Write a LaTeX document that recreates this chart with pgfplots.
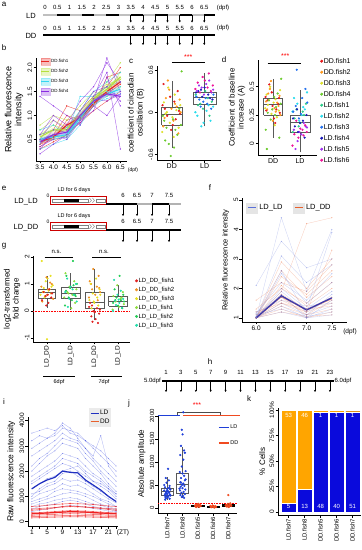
\documentclass[border=0pt]{standalone}
\usepackage{fontspec}
\setmainfont{Liberation Sans}
\usepackage{pgfplots}
\usepackage{pgfplotstable}
\pgfplotsset{compat=1.18}
\usetikzlibrary{arrows.meta}

\definecolor{bb1}{HTML}{E8251F}
\definecolor{bb2}{HTML}{B5E03C}
\definecolor{bb3}{HTML}{35D6F0}
\definecolor{bb4}{HTML}{8A2BE2}
\definecolor{cd1}{HTML}{E41A1C}
\definecolor{cd2}{HTML}{FF9A1F}
\definecolor{cd3}{HTML}{DDE02A}
\definecolor{cd4}{HTML}{6CCB2E}
\definecolor{cl1}{HTML}{2ECC8A}
\definecolor{cl2}{HTML}{2ADCEC}
\definecolor{cl3}{HTML}{2270EE}
\definecolor{cl4}{HTML}{1A1AB8}
\definecolor{cl5}{HTML}{A030F0}
\definecolor{cl6}{HTML}{F0149A}
\definecolor{gg1}{HTML}{E02020}
\definecolor{gg2}{HTML}{F09020}
\definecolor{gg3}{HTML}{E6E020}
\definecolor{gg4}{HTML}{8CDC3C}
\definecolor{gg5}{HTML}{22CC55}
\definecolor{gg6}{HTML}{22DDAA}
\definecolor{fblue}{HTML}{5A6FD8}
\definecolor{fred}{HTML}{E8602C}
\definecolor{fmean}{HTML}{3A3AAE}
\definecolor{iblue}{HTML}{3A4ADF}
\definecolor{imean}{HTML}{2030C0}
\definecolor{ired}{HTML}{EE2222}
\definecolor{jblue}{HTML}{1F3FD8}
\definecolor{jred}{HTML}{F04A20}
\definecolor{korange}{HTML}{FFA500}
\definecolor{kblue}{HTML}{0A0ADC}

\newcommand\fsz[2]{\fontsize{#1}{#2}\selectfont}
% box-and-whisker from plain coordinates: style, left, centre, right, lower whisker, q1, median, q3, upper whisker
\newcommand\rbox[9]{%
 \addplot[#1, forget plot] coordinates {(#3,#5) (#3,#6)};
 \addplot[#1, forget plot] coordinates {(#3,#8) (#3,#9)};
 \addplot[#1, forget plot] coordinates {(#2,#6) (#4,#6) (#4,#8) (#2,#8) (#2,#6)};
 \addplot[#1, forget plot, line width=1pt] coordinates {(#2,#7) (#4,#7)};
}

\tikzset{arr/.style={-{Stealth[length=2.2pt,width=2.2pt]}, line width=0.6pt}}
\pgfplotsset{
 rbase/.style={
  scale only axis, clip=false, anchor=south west,
  axis x line*=bottom, axis y line*=left,
  axis line style={line width=0.5pt,-},
  tick align=outside, major tick length=2.5pt,
  every tick/.style={black, line width=0.5pt},
  tick label style={font=\fsz{6.5}{7}, inner sep=1pt},
  yticklabel style={rotate=90, anchor=south},
  label style={font=\fsz{8}{9}, align=center},
  /pgf/number format/assume math mode=true,
  scaled ticks=false,
  legend cell align=left,
 },
 allclasses/.style={scatter, only marks, mark=*, scatter src=explicit symbolic,
  scatter/classes={d1={mark=*,cd1},d2={mark=*,cd2},d3={mark=*,cd3},d4={mark=*,cd4},
  l1={mark=*,cl1},l2={mark=*,cl2},l3={mark=*,cl3},l4={mark=*,cl4},l5={mark=*,cl5},l6={mark=*,cl6},
  g1={mark=*,gg1},g2={mark=*,gg2},g3={mark=*,gg3},g4={mark=*,gg4},g5={mark=*,gg5},g6={mark=*,gg6}}},
 dotleg/.style={legend image code/.code={\fill[##1] (0pt,0pt) circle (1.3pt);}},
}

% ---------- panel b data ----------
\pgfplotstableread{
t a b c d e m
3.5 0.40 0.60 0.30 0.50 0.35 0.45
4.0 0.50 0.70 0.45 0.60 0.55 0.55
4.5 0.90 1.20 0.60 1.00 0.80 0.80
5.0 1.00 1.10 0.85 0.90 0.95 0.95
5.5 1.30 1.40 1.10 1.20 1.35 1.25
6.0 1.50 1.60 1.30 1.80 1.45 1.50
6.5 1.70 2.00 1.50 1.90 1.65 1.70
}\bfa
\pgfplotstableread{
t a b c d e m
3.5 0.60 0.40 0.80 0.50 0.70 0.55
4.0 0.80 0.60 1.00 0.50 0.90 0.70
4.5 0.70 0.55 0.90 0.60 0.75 0.70
5.0 1.10 0.90 1.20 1.00 0.95 1.00
5.5 1.40 1.30 1.50 1.20 1.35 1.35
6.0 1.60 1.70 1.40 1.50 1.65 1.55
6.5 1.80 2.10 1.60 1.90 1.75 1.80
}\bfb
\pgfplotstableread{
t a b c d e m
3.5 0.50 0.30 0.70 0.45 0.60 0.50
4.0 0.60 0.40 0.80 0.50 0.70 0.55
4.5 0.65 0.50 0.60 0.55 0.75 0.60
5.0 1.00 0.80 1.40 0.90 1.10 0.95
5.5 1.30 1.20 1.40 1.25 1.50 1.30
6.0 1.50 1.40 1.60 1.35 1.70 1.45
6.5 1.60 1.50 1.70 1.45 1.90 1.55
}\bfc
\pgfplotstableread{
t a b c d e f g m
3.5 0.30 0.50 0.20 1.40 0.40 0.60 0.35 0.45
4.0 0.60 0.90 0.40 1.20 0.70 1.00 0.50 0.60
4.5 0.50 0.70 0.60 1.00 0.65 0.80 0.55 0.65
5.0 0.90 1.00 1.10 0.80 0.85 1.30 0.95 1.00
5.5 1.10 1.30 1.50 1.40 1.20 1.60 1.35 1.30
6.0 1.80 2.20 1.60 1.90 1.00 2.10 1.30 1.45
6.5 1.20 1.50 1.30 0.30 1.40 1.70 1.45 1.40
}\bfd

% ---------- panels c,d data ----------
\pgfplotstableread{
dx yc yd cls
-0.21 0.05 0.38 d1
0.12 -0.10 0.30 d1
-0.05 0.22 0.45 d1
0.25 -0.02 0.27 d1
-0.28 0.10 0.41 d1
0.03 -0.18 0.22 d1
0.18 0.30 0.35 d1
-0.14 -0.05 0.52 d1
0.08 0.15 0.18 d1
-0.02 -0.25 0.33 d1
0.22 0.02 0.40 d1
-0.25 0.40 0.29 d1
0.15 0.08 0.36 d2
-0.18 0.20 0.44 d2
0.05 -0.12 0.31 d2
-0.08 0.32 0.55 d2
0.27 0.00 0.25 d2
-0.26 -0.20 0.37 d2
0.10 0.12 0.28 d2
-0.12 0.45 0.48 d2
0.20 -0.30 0.33 d2
-0.01 0.05 0.20 d2
0.24 0.18 0.42 d2
-0.22 -0.08 0.30 d2
-0.19 -0.02 0.34 d3
0.09 0.25 0.39 d3
-0.06 -0.15 0.26 d3
0.26 0.10 0.47 d3
-0.29 -0.28 0.31 d3
0.14 0.03 0.23 d3
-0.11 0.35 0.50 d3
0.02 -0.07 0.36 d3
0.21 -0.22 0.29 d3
-0.24 0.14 0.43 d3
0.06 -0.35 0.16 d3
-0.15 0.00 0.38 d3
0.11 -0.25 0.32 d4
-0.20 -0.40 0.27 d4
0.04 -0.10 0.41 d4
-0.09 -0.45 0.21 d4
0.28 -0.18 0.35 d4
-0.27 -0.05 0.12 d4
0.17 -0.32 0.44 d4
-0.03 -0.62 0.30 d4
0.23 0.05 0.05 d4
-0.16 -0.22 0.38 d4
0.07 -0.50 0.25 d4
-0.23 -0.12 -0.05 d4
0.30 0.58 0.57 d4
}\cdDD
\pgfplotstableread{
dx yc yd cls
-0.20 0.10 0.22 l1
0.10 0.20 0.28 l1
-0.05 0.05 0.15 l1
0.22 0.15 0.35 l1
-0.27 0.25 0.10 l1
0.15 -0.05 0.25 l1
0.02 0.30 0.18 l1
-0.13 0.12 0.30 l1
0.18 -0.12 0.30 l2
-0.22 -0.05 0.40 l2
0.06 0.02 0.25 l2
-0.10 -0.20 0.35 l2
0.26 0.08 0.45 l2
-0.03 -0.15 0.20 l2
0.12 0.10 0.32 l2
-0.28 0.00 0.28 l2
-0.16 0.18 0.33 l3
0.08 0.12 0.40 l3
-0.25 0.22 0.28 l3
0.20 0.05 0.48 l3
-0.04 0.15 0.22 l3
0.27 0.25 0.36 l3
-0.12 0.08 0.65 l3
0.03 0.20 0.26 l3
0.11 0.25 0.20 l4
-0.19 0.30 0.15 l4
0.24 0.18 0.25 l4
-0.07 0.22 0.10 l4
0.00 0.35 0.18 l4
-0.26 0.28 0.22 l4
0.17 0.20 0.05 l4
-0.11 0.32 0.30 l4
-0.23 0.30 0.12 l5
0.05 0.40 0.08 l5
0.21 0.28 0.15 l5
-0.09 0.35 0.02 l5
0.14 0.45 0.18 l5
-0.02 0.25 0.10 l5
-0.17 0.38 -0.05 l5
0.26 0.32 0.14 l5
0.09 0.35 0.12 l6
-0.21 0.42 0.08 l6
0.19 0.30 0.16 l6
-0.06 0.50 0.05 l6
0.25 0.38 0.10 l6
-0.14 0.28 0.20 l6
0.01 0.45 0.13 l6
-0.28 0.33 -0.02 l6
0.13 0.55 0.07 l6
}\cdLD

% ---------- panel g data ----------
\pgfplotstableread{
x y cls
0.78 1.85 g3
1.15 1.30 g3
0.95 1.10 g3
1.24 0.95 g3
0.86 0.85 g3
1.07 0.75 g3
0.73 0.60 g3
1.19 0.90 g3
1.02 1.20 g3
0.90 0.50 g3
1.00 -1.05 g3
0.82 0.70 g3
1.11 0.80 g3
0.98 1.25 g2
1.20 1.00 g2
0.76 0.90 g2
1.05 0.80 g2
0.88 0.70 g2
1.17 0.65 g2
0.92 0.55 g2
1.26 0.45 g2
0.80 0.35 g2
1.13 1.05 g2
1.00 0.60 g2
1.10 0.80 g1
0.85 0.70 g1
1.03 0.60 g1
0.94 0.55 g1
1.18 0.50 g1
0.79 0.40 g1
1.06 0.30 g1
0.97 0.20 g1
1.22 0.65 g1
1.78 1.40 g4
2.15 1.10 g4
1.95 0.90 g4
2.24 0.80 g4
1.86 0.70 g4
2.07 0.60 g4
1.73 0.50 g4
2.19 0.30 g4
2.02 0.10 g4
1.90 0.65 g4
2.10 1.85 g5
1.82 1.30 g5
2.26 1.00 g5
1.98 0.85 g5
1.80 0.75 g5
2.17 0.60 g5
1.92 0.50 g5
2.05 0.40 g5
1.76 0.20 g5
2.12 0.95 g5
2.21 0.55 g5
1.85 1.20 g6
2.22 1.00 g6
2.00 0.90 g6
1.77 0.70 g6
2.13 0.60 g6
1.94 0.45 g6
2.25 0.35 g6
1.88 0.15 g6
2.08 0.80 g6
2.95 1.55 g2
3.18 1.30 g2
2.80 1.10 g2
3.10 0.90 g2
2.90 0.80 g2
3.24 0.70 g2
3.03 0.60 g2
2.77 0.50 g2
3.14 0.40 g2
2.86 1.00 g2
3.20 0.85 g2
3.07 1.20 g3
2.84 1.00 g3
3.22 0.80 g3
2.93 0.65 g3
3.12 0.50 g3
2.79 0.40 g3
3.00 0.30 g3
3.16 0.20 g3
2.88 0.10 g3
3.25 0.60 g3
2.97 0.35 g3
2.82 0.30 g1
3.11 0.10 g1
2.96 0.00 g1
3.20 -0.10 g1
2.87 -0.20 g1
3.05 -0.30 g1
2.92 -0.40 g1
3.15 -0.45 g1
2.78 0.15 g1
3.23 0.05 g1
3.01 -0.05 g1
2.90 0.20 g1
3.96 0.95 g4
4.20 0.70 g4
3.80 0.55 g4
4.10 0.45 g4
3.90 0.35 g4
4.24 0.25 g4
4.03 0.15 g4
3.77 0.05 g4
4.14 0.50 g4
4.06 1.30 g5
3.85 0.80 g5
4.22 0.60 g5
3.93 0.50 g5
4.12 0.40 g5
3.79 0.30 g5
4.00 0.20 g5
4.17 0.10 g5
3.88 0.40 g5
4.25 0.35 g5
3.83 1.15 g6
4.11 0.75 g6
3.97 0.60 g6
4.21 0.45 g6
3.86 0.38 g6
4.05 0.30 g6
3.91 0.22 g6
4.16 0.12 g6
3.78 0.00 g6
4.02 0.42 g6
}\gtab

% ---------- panel f data ----------
\pgfplotstableread{
t a b c d e f g h i j k l m n o M
6.0 1.0 1.0 1.05 1.0 1.1 1.0 1.2 1.0 1.0 1.15 1.0 2.1 1.0 1.05 1.0 1.0
6.5 1.5 2.0 1.8 2.5 1.3 3.1 1.6 4.4 1.9 2.2 1.4 3.6 1.7 2.6 1.2 1.75
7.0 1.1 1.3 1.0 1.5 1.05 2.2 1.4 1.9 1.2 1.6 1.0 2.7 1.3 1.1 1.0 1.27
7.5 1.4 1.9 1.6 2.2 1.2 2.8 1.5 4.0 1.7 2.5 1.3 3.0 3.9 1.8 1.1 1.68
}\flb
\pgfplotstableread{
t a b c d e f g h i j k l m n o M
6.0 1.0 1.0 1.1 1.0 1.0 1.0 1.2 1.0 1.0 1.3 1.0 1.0 1.6 1.0 1.0 1.0
6.5 1.6 2.1 1.7 2.4 1.3 2.9 1.5 1.9 1.8 2.0 1.4 2.6 2.2 1.5 1.2 1.72
7.0 1.2 1.4 1.1 1.8 1.0 2.0 1.3 4.2 1.3 1.5 1.1 1.7 1.9 1.2 1.05 1.26
7.5 1.5 2.0 1.6 2.6 1.2 3.0 1.4 4.4 1.7 2.2 1.3 2.4 2.8 3.3 1.1 1.65
}\fld

% ---------- panel i data ----------
\pgfplotstableread{
t a b c d e f g h i j k l m n o p q r M
1 3500 2900 1800 1300 900 700 2200 1100 600 1500 3200 500 2600 1000 800 1600 400 2000 1300
3 3600 3100 2000 1500 1100 800 2500 1200 700 1700 3400 600 2800 1300 900 1800 450 2300 1500
5 3700 3300 2200 1700 1200 900 2700 1400 750 1900 3300 650 3000 1500 1000 2000 500 2600 1650
7 3600 3400 2400 1800 1300 1000 3000 1500 850 2100 3500 700 3200 1600 1200 2200 550 2800 1750
9 3800 3700 2700 2000 1500 1100 3300 1700 900 2300 3900 800 3500 1900 1300 2500 600 3100 2000
11 3500 3600 2600 2100 1400 1150 3200 1600 950 2200 3700 850 3300 2000 1250 2400 650 3000 1950
13 3400 3500 2500 2200 1450 1100 3100 1650 900 2000 3300 800 3200 1800 1200 2300 620 2900 1930
15 3200 3200 2200 1900 1300 1000 2700 1500 800 1800 2900 700 2900 1600 1100 2000 580 2500 1650
17 3000 2900 1900 1600 1100 850 2400 1300 700 1600 2600 600 2500 1400 1000 1800 520 2200 1450
19 2800 2600 1700 1400 900 700 2000 1100 650 1500 3400 550 2200 1200 850 1600 480 1900 1250
21 2500 2300 1400 1200 800 600 1700 900 550 1300 2200 500 1900 1000 700 1300 420 1500 1000
23 2200 2000 1100 900 600 500 1400 750 450 1000 1800 400 1600 800 600 1100 380 1200 800
}\iLD
\pgfplotstableread{
t a b c d e f g h M
1 200 300 450 150 600 350 250 500 320
3 210 320 480 160 620 360 270 520 330
5 220 340 500 170 650 380 280 540 345
7 230 360 550 180 680 400 290 560 360
9 240 380 600 190 700 420 310 580 380
11 250 390 620 200 720 440 320 600 395
13 250 380 600 195 710 430 315 590 390
15 240 370 580 190 700 420 300 580 380
17 230 350 550 180 680 400 290 560 360
19 220 330 520 170 650 380 280 540 345
21 210 310 480 160 620 360 260 520 330
23 200 300 450 150 600 340 250 500 320
}\iDD

% ---------- panel j data (amplitude, in units of 100) ----------
\pgfplotstableread{
x y
1.05 8.50
0.90 6.50
1.10 6.00
0.95 5.50
1.15 4.80
0.85 4.50
1.00 4.20
1.20 4.00
0.80 3.80
1.05 3.60
0.92 3.40
1.12 3.30
0.88 3.10
1.00 3.00
1.18 2.90
0.83 2.80
1.08 2.60
0.95 2.50
1.02 2.30
0.90 2.10
1.15 2.00
0.86 1.80
1.06 3.50
0.97 3.70
1.13 4.40
0.80 5.00
0.94 3.20
1.20 2.70
1.00 3.90
0.87 2.40
2.05 20.80
1.95 17.00
2.00 16.00
1.90 13.50
2.10 12.50
2.15 12.00
1.85 11.50
2.05 10.50
1.95 9.00
2.20 8.00
1.82 7.80
2.00 7.50
2.10 7.00
1.90 6.50
2.15 6.00
1.85 5.60
2.05 5.30
1.97 5.00
2.12 4.80
1.88 4.60
2.00 4.30
2.18 4.00
1.83 3.80
2.07 3.50
1.93 3.30
2.15 3.00
1.86 2.80
2.02 2.60
1.95 2.40
2.10 2.20
1.90 5.50
2.20 6.20
1.80 4.20
}\jLD
\pgfplotstableread{
x y
2.85 0.30
2.95 0.50
3.05 0.40
3.15 0.60
2.90 0.20
3.10 0.70
3.00 0.35
2.82 0.55
3.20 0.45
2.97 0.80
3.08 0.25
2.88 0.65
3.12 0.30
3.02 0.90
2.92 0.40
3.85 0.20
3.95 0.30
4.05 0.15
4.15 0.40
3.90 0.25
4.10 0.10
4.00 0.35
3.82 0.45
4.20 0.20
3.97 0.55
4.08 0.30
3.88 0.15
4.85 0.40
4.95 0.60
5.05 0.50
5.15 0.80
4.90 0.30
5.10 0.70
5.00 2.80
4.82 0.55
5.20 0.45
4.97 0.90
5.08 0.35
4.88 0.65
5.12 1.00
5.02 0.20
}\jDD

\begin{document}
\begin{tikzpicture}
\useasboundingbox (0pt,0pt) rectangle (362pt,550pt);

% ================= b =================
\begin{axis}[rbase, at={(36pt,389pt)}, width=91pt, height=103pt,
 xmin=3.35, xmax=6.75, ymin=0.05, ymax=2.2,
 xtick={3.5,4,4.5,5,5.5,6,6.5}, xticklabels={3.5,4.0,4.5,5.0,5.5,6.0,6.5},
 ytick={0.5,1,1.5,2}, yticklabels={0.5,1.0,1.5,2.0},
 ylabel={Relative fluorescence\\intensity}, ylabel style={font=\fsz{9}{10}},
 legend style={at={(0.05,1.0)}, anchor=north west, draw=none, fill=none, font=\fsz{4.5}{5}, row sep=2.5pt, inner sep=0pt, nodes={inner sep=1pt}},
 legend image code/.code={\fill[#1,opacity=0.3] (0pt,-3.5pt) rectangle (9pt,3.5pt); \draw[#1,line width=1.2pt] (0.5pt,0pt) -- (8.5pt,0pt);},
]
\addlegendimage{bb1}\addlegendentry{DD.fish1}
\addlegendimage{bb2}\addlegendentry{DD.fish2}
\addlegendimage{bb3}\addlegendentry{DD.fish3}
\addlegendimage{bb4}\addlegendentry{DD.fish4}
\pgfplotsinvokeforeach{a,b,c,d,e}{\addplot[bb1, line width=0.4pt, opacity=0.75, mark=*, mark size=0.45pt, forget plot] table[x=t,y=#1]{\bfa};}
\pgfplotsinvokeforeach{a,b,c,d,e}{\addplot[bb2, line width=0.4pt, opacity=0.75, mark=*, mark size=0.45pt, forget plot] table[x=t,y=#1]{\bfb};}
\pgfplotsinvokeforeach{a,b,c,d,e}{\addplot[bb3, line width=0.4pt, opacity=0.75, mark=*, mark size=0.45pt, forget plot] table[x=t,y=#1]{\bfc};}
\pgfplotsinvokeforeach{a,b,c,d,e,f,g}{\addplot[bb4, line width=0.4pt, opacity=0.75, mark=*, mark size=0.45pt, forget plot] table[x=t,y=#1]{\bfd};}
\addplot[bb1, line width=4pt, opacity=0.25, forget plot] table[x=t,y=m]{\bfa};
\addplot[bb2, line width=4pt, opacity=0.25, forget plot] table[x=t,y=m]{\bfb};
\addplot[bb3, line width=4pt, opacity=0.25, forget plot] table[x=t,y=m]{\bfc};
\addplot[bb4, line width=4pt, opacity=0.25, forget plot] table[x=t,y=m]{\bfd};
\addplot[bb1, line width=1pt, forget plot] table[x=t,y=m]{\bfa};
\addplot[bb2, line width=1pt, forget plot] table[x=t,y=m]{\bfb};
\addplot[bb3, line width=1pt, forget plot] table[x=t,y=m]{\bfc};
\addplot[bb4, line width=1pt, forget plot] table[x=t,y=m]{\bfd};
\end{axis}

% ================= c =================
\begin{axis}[rbase, at={(157pt,389.8pt)}, width=64pt, height=94.5pt,
 xmin=0.55, xmax=2.5, ymin=-0.68, ymax=0.66,
 xtick={1,2}, xticklabels={DD,LD}, xticklabel style={font=\fsz{7}{8}},
 ytick={-0.6,0,0.6}, yticklabels={-0.6,0,0.6},
 ylabel={coefficient of circadian\\oscillation (B)}]
\addplot[allclasses, mark size=0.9pt, forget plot] table[x expr={1+\thisrow{dx}}, y=yc, meta=cls]{\cdDD};
\addplot[allclasses, mark size=0.9pt, forget plot] table[x expr={2+\thisrow{dx}}, y=yc, meta=cls]{\cdLD};
\rbox{draw=black!65, line width=0.5pt}{0.69}{1}{1.31}{-0.5}{-0.18}{-0.03}{0.07}{0.45}
\rbox{draw=black!65, line width=0.5pt}{1.65}{2}{2.35}{-0.2}{0.11}{0.21}{0.28}{0.55}
\draw[line width=0.8pt] (axis cs:1,0.7) -- (axis cs:2,0.7);
\node[red, font=\fsz{7}{7}] at (axis cs:1.5,0.78) {***};
\end{axis}

% ================= d =================
\begin{axis}[rbase, at={(258pt,395pt)}, width=59pt, height=95pt,
 xmin=0.44, xmax=2.63, ymin=-0.103, ymax=0.736,
 xtick={1,2}, xticklabels={DD,LD}, xticklabel style={font=\fsz{7}{8}},
 ytick={0,0.25,0.5}, yticklabels={0,0.25,0.5},
 ylabel={Coefficient of baseline\\increase (A)}, dotleg,
 legend style={at={(1.05,1.03)}, anchor=north west, draw=none, fill=none, font=\fsz{7}{8}, row sep=3.3pt, inner sep=0pt, nodes={inner sep=0.6pt, text height=5.3pt, text depth=1.2pt}}]
\addlegendimage{cd1}\addlegendentry{DD.fish1}
\addlegendimage{cd2}\addlegendentry{DD.fish2}
\addlegendimage{cd3}\addlegendentry{DD.fish3}
\addlegendimage{cd4}\addlegendentry{DD.fish4}
\addlegendimage{cl1}\addlegendentry{LD.fish1}
\addlegendimage{cl2}\addlegendentry{LD.fish2}
\addlegendimage{cl3}\addlegendentry{LD.fish3}
\addlegendimage{cl4}\addlegendentry{LD.fish4}
\addlegendimage{cl5}\addlegendentry{LD.fish5}
\addlegendimage{cl6}\addlegendentry{LD.fish6}
\addplot[allclasses, mark size=0.9pt, forget plot] table[x expr={1+\thisrow{dx}}, y=yd, meta=cls]{\cdDD};
\addplot[allclasses, mark size=0.9pt, forget plot] table[x expr={2+\thisrow{dx}}, y=yd, meta=cls]{\cdLD};
\rbox{draw=black!65, line width=0.5pt}{0.65}{1}{1.35}{0.05}{0.25}{0.34}{0.40}{0.57}
\rbox{draw=black!65, line width=0.5pt}{1.625}{2}{2.375}{-0.08}{0.10}{0.18}{0.25}{0.47}
\draw[line width=0.8pt] (axis cs:0.8,0.71) -- (axis cs:2.05,0.71);
\node[red, font=\fsz{7}{7}] at (axis cs:1.45,0.77) {***};
\end{axis}

% ================= g =================
\begin{axis}[rbase, at={(33pt,208pt)}, width=97pt, height=86.4pt,
 xmin=0.41, xmax=4.5, ymin=-1.15, ymax=2.05,
 xtick={1,2,3,4}, xticklabels={LD\_DD,LD\_LD,LD\_DD,LD\_LD}, xticklabel style={rotate=90, anchor=east, font=\fsz{6.5}{7}},
 ytick={-1,0,1,2}, yticklabels={-1,0,1,2},
 ylabel={log2-transformed\\fold change}, dotleg,
 legend style={at={(1.05,0.75)}, anchor=north west, draw=none, fill=none, font=\fsz{6}{7}, row sep=2pt, inner sep=0pt, nodes={inner sep=0.6pt, text height=4.6pt, text depth=1.1pt}}]
\addlegendimage{gg1}\addlegendentry{LD\_DD\_fish1}
\addlegendimage{gg2}\addlegendentry{LD\_DD\_fish2}
\addlegendimage{gg3}\addlegendentry{LD\_DD\_fish3}
\addlegendimage{gg4}\addlegendentry{LD\_LD\_fish1}
\addlegendimage{gg5}\addlegendentry{LD\_LD\_fish2}
\addlegendimage{gg6}\addlegendentry{LD\_LD\_fish3}
\addplot[red, densely dotted, line width=0.6pt, forget plot] coordinates {(0.41,0) (4.5,0)};
\addplot[allclasses, mark size=0.85pt, forget plot] table[x=x, y=y, meta=cls]{\gtab};
\rbox{draw=black!65, line width=0.5pt}{0.64}{1}{1.36}{0.1}{0.48}{0.69}{0.82}{1.3}
\rbox{draw=black!65, line width=0.5pt}{1.6}{2}{2.4}{0.05}{0.48}{0.63}{0.88}{1.4}
\rbox{draw=black!65, line width=0.5pt}{2.6}{3}{3.4}{-0.35}{0.1}{0.32}{0.69}{1.55}
\rbox{draw=black!65, line width=0.5pt}{3.6}{4}{4.4}{0}{0.19}{0.36}{0.54}{0.95}
\draw[line width=0.8pt] (axis cs:0.9,2.0) -- (axis cs:2.1,2.0);
\draw[line width=0.8pt] (axis cs:2.9,2.0) -- (axis cs:4.1,2.0);
\node[font=\fsz{6}{6}] at (axis cs:1.4,2.17) {n.s.};
\node[font=\fsz{6}{6}] at (axis cs:3.4,2.17) {n.s.};
\end{axis}

% ================= f =================
\begin{axis}[rbase, at={(242pt,228pt)}, width=105pt, height=124pt,
 xmin=5.72, xmax=7.8, ymin=0.86, ymax=5.07,
 xtick={6,6.5,7,7.5}, xticklabels={6.0,6.5,7.0,7.5},
 ytick={1,2,3,4,5}, yticklabels={1,2,3,4,5},
 ylabel={Relative fluorescence intensity}, ylabel style={font=\fsz{7.5}{8}},
 legend columns=2,
 legend style={at={(0.04,0.965)}, anchor=north west, draw=none, fill=none, font=\fsz{7.5}{8}, inner sep=0pt, nodes={inner sep=1.5pt}, /tikz/every even column/.append style={column sep=9pt}},
 legend image code/.code={\fill[black!10] (0pt,-5pt) rectangle (11pt,5pt); \draw[#1,line width=1.5pt] (1.5pt,0pt) -- (9.5pt,0pt);}]
\addlegendimage{fblue}\addlegendentry{LD\_LD}
\addlegendimage{fred}\addlegendentry{LD\_DD}
\pgfplotsinvokeforeach{a,b,c,d,e,f,g,h,i,j,k,l,m,n,o}{\addplot[fred, line width=0.35pt, opacity=0.3, mark=*, mark size=0.4pt, forget plot] table[x=t,y=#1]{\fld};}
\pgfplotsinvokeforeach{a,b,c,d,e,f,g,h,i,j,k,l,m,n,o}{\addplot[fblue, line width=0.35pt, opacity=0.3, mark=*, mark size=0.4pt, forget plot] table[x=t,y=#1]{\flb};}
\addplot[fred, line width=0.9pt, opacity=0.6, forget plot] table[x=t,y=M]{\fld};
\addplot[fmean, line width=1.3pt, forget plot] table[x=t,y=M]{\flb};
\end{axis}

% ================= i =================
\begin{axis}[rbase, at={(28pt,24pt)}, width=90pt, height=109.3pt,
 xmin=0, xmax=23.5, ymin=-170, ymax=4150,
 xtick={1,3,5,7,9,11,13,15,17,19,21,23}, xticklabels={1,,5,,9,,13,,17,,21,},
 ytick={0,1000,2000,3000,4000}, yticklabels={0,1000,2000,3000,4000},
 ylabel={Raw fluorescence intensity}, ylabel style={font=\fsz{8.5}{9}},
 legend style={at={(0.93,1.08)}, anchor=north east, fill=black!8, draw=none, font=\fsz{6.5}{7}, inner sep=1pt, row sep=0.5pt, nodes={inner sep=1pt}},
 legend image code/.code={\draw[#1,line width=1.2pt] (0pt,0pt) -- (8pt,0pt);}]
\addlegendimage{imean}\addlegendentry{LD}
\addlegendimage{fred}\addlegendentry{DD}
\pgfplotsinvokeforeach{a,b,c,d,e,f,g,h,i,j,k,l,m,n,o,p,q,r}{\addplot[iblue, line width=0.35pt, opacity=0.4, mark=*, mark size=0.35pt, forget plot] table[x=t,y=#1]{\iLD};}
\pgfplotsinvokeforeach{a,b,c,d,e,f,g,h}{\addplot[ired, line width=0.7pt, opacity=0.55, mark=*, mark size=0.4pt, forget plot] table[x=t,y=#1]{\iDD};}
\addplot[imean, line width=1.2pt, forget plot] table[x=t,y=M]{\iLD};
\addplot[ired, line width=1.2pt, forget plot] table[x=t,y=M]{\iDD};
\end{axis}

% ================= j =================
\begin{axis}[rbase, at={(158pt,37pt)}, width=79.5pt, height=98.4pt,
 xmin=0.39, xmax=5.6, ymin=-1.1, ymax=20.3,
 xtick={1,2,3,4,5}, xticklabels={LD.fish7,LD.fish8,DD.fish5,DD.fish6,DD.fish7}, xticklabel style={rotate=90, anchor=east, font=\fsz{6}{7}},
 ytick={0,5,10,15,20}, yticklabels={0,500,1000,1500,2000}, yticklabel style={font=\fsz{6}{7}},
 ylabel={Absolute amplitude},
 legend style={at={(0.755,0.905)}, anchor=north west, draw=none, fill=none, font=\fsz{5.5}{6}, row sep=8pt, inner sep=0pt, nodes={inner sep=1pt}},
 legend image code/.code={\draw[#1,line width=1.2pt] (0pt,0pt) -- (10pt,0pt);}]
\addlegendimage{jblue}\addlegendentry{LD}
\addlegendimage{jred}\addlegendentry{DD}
\addplot[red, densely dotted, line width=0.6pt, forget plot] coordinates {(0.39,1) (5.6,1)};
\addplot[only marks, mark=*, mark size=0.9pt, jblue, forget plot] table[x=x,y=y]{\jLD};
\addplot[only marks, mark=*, mark size=0.9pt, jred, forget plot] table[x=x,y=y]{\jDD};
\rbox{draw=black!65, line width=0.5pt}{0.6}{1}{1.4}{1.8}{2.8}{3.5}{4.3}{6.8}
\rbox{draw=black!65, line width=0.5pt}{1.6}{2}{2.4}{2.1}{3.2}{5.0}{7.6}{13.3}
\rbox{draw=black, line width=0.5pt}{2.6}{3}{3.4}{0.15}{0.3}{0.45}{0.65}{0.95}
\rbox{draw=black, line width=0.5pt}{3.6}{4}{4.4}{0.1}{0.18}{0.28}{0.38}{0.55}
\rbox{draw=black, line width=0.5pt}{4.6}{5}{5.4}{0.2}{0.38}{0.55}{0.72}{1.0}
\draw[jblue, line width=0.8pt] (axis cs:0.39,20.2) -- (axis cs:1.83,20.2);
\draw[jred, line width=0.8pt] (axis cs:2.03,20.2) -- (axis cs:5.75,20.2);
\draw[black!70, line width=0.6pt] (axis cs:1.64,20.2) -- (axis cs:1.64,20.9) -- (axis cs:4.46,20.9) -- (axis cs:4.46,20.2);
\node[red, font=\fsz{7}{7}] at (axis cs:2.95,22.3) {***};
\end{axis}

% ================= k =================
\begin{axis}[rbase, at={(278pt,35pt)}, width=83.4pt, height=107pt,
 xmin=0.34, xmax=5.55, ymin=-3, ymax=102,
 ybar stacked, bar width=15pt,
 xtick={1,2,3,4,5}, xticklabels={LD.fish7,LD.fish8,DD.fish5,DD.fish6,DD.fish7}, xticklabel style={rotate=90, anchor=east, font=\fsz{6}{7}},
 ytick={0,25,50,75,100}, yticklabels={0,25\%,50\%,75\%,100\%},
 ylabel={\% Cells}]
\addplot[fill=kblue, draw=white, line width=0.6pt, forget plot] coordinates {(1,8.6) (2,22.0) (3,98.0) (4,97.6) (5,98.1)};
\addplot[fill=korange, draw=white, line width=0.6pt, forget plot] coordinates {(1,91.4) (2,78.0) (3,2.0) (4,2.4) (5,1.9)};
\end{axis}

% ================= schematics & letters (image coordinates) =================
\begin{scope}[shift={(0pt,550pt)}, x=1pt, y=-1pt, every node/.style={inner sep=0pt}]
\foreach \l/\px/\py in {a/4/4, b/4/48, c/131/61, d/224/60, e/4/188, f/210/188, g/4/246, h/210/362, i/4/402, j/129/403, k/249/399}
  \node[font=\fsz{8}{8}] at (\px,\py) {\l};
% ---- k counts (text) ----
\foreach \xx/\nn in {288.6/5, 304.6/13, 320.6/48, 336.6/40, 352.6/51}
  \node[white, font=\fsz{6}{6}] at (\xx,506) {\nn};
\foreach \xx/\nn in {288.6/53, 304.6/46, 320.6/1, 336.6/1, 352.6/1}
  \node[white, font=\fsz{6}{6}] at (\xx,415) {\nn};
% ---- a ----
\node[font=\fsz{7.5}{8}] at (31,16) {LD};
\node[font=\fsz{7.5}{8}] at (31,36) {DD};
\draw[black!25, line width=1.8pt] (43,15) -- (215,15);
\foreach \s in {0.5,1.5,2.5,3.5,4.5,5.5} \draw[line width=1.2pt] ({45+\s*24.5},15) -- ({45+(\s+0.5)*24.5},15);
\draw[line width=1.2pt] (204.25,15) -- (215,15);
\foreach \s in {3.5,4,4.5,5,5.5,6,6.5} \draw[arr] ({45+\s*24.5},15) -- ({45+\s*24.5},22.5);
\draw[line width=1.3pt] (43,35) -- (215,35);
\foreach \s in {3.5,4,4.5,5,5.5,6,6.5} \draw[arr] ({45+\s*24.5},35) -- ({45+\s*24.5},45);
\foreach \v in {0,0.5,1,1.5,2,2.5,3,3.5,4,4.5,5,5.5,6,6.5} {
  \node[font=\fsz{6}{6}] at ({45+\v*24.5},7.5) {\v};
  \node[font=\fsz{6}{6}] at ({45+\v*24.5},28) {\v};}
\node[font=\fsz{6}{6}] at (223,7.5) {(dpf)};
\node[font=\fsz{6}{6}] at (223,28) {(dpf)};
% ---- e ----
\foreach \yy/\name in {0/LD\_LD, 26/LD\_DD} {
  \node[font=\fsz{7.5}{8}] at (26,202+\yy) {\name};
  \node[font=\fsz{5.5}{6}] at (74,190.5+\yy) {LD for 6 days};
  \node[font=\fsz{5}{5}] at (48,195.5+\yy) {0};
  \draw[red!80!black, line width=0.6pt] (50,196+\yy) rectangle (106,204+\yy);
  \draw[black!50, fill=white, line width=0.4pt] (52,199+\yy) rectangle (88,201.8+\yy);
  \fill (64,199+\yy) rectangle (79,201.8+\yy);
  \draw[black!50, line width=0.4pt] (89.5,198+\yy) -- (91.5,200.4+\yy) -- (89.5,202.8+\yy);
  \draw[black!50, line width=0.4pt] (92.5,198+\yy) -- (94.5,200.4+\yy) -- (92.5,202.8+\yy);
  \draw[black!50, fill=white, line width=0.4pt] (96,199+\yy) rectangle (105,201.8+\yy);
  \foreach \xx/\lab in {123/6, 137/6.5, 152/7, 169/7.5} {
    \node[font=\fsz{6}{6}] at (\xx,195+\yy) {\lab};
    \draw[arr] (\xx,204+\yy) -- (\xx,216+\yy);}
}
\draw[line width=1.1pt] (106,204) -- (137,204);
\draw[black!30, line width=1.1pt] (137,204) -- (152,204);
\draw[line width=1.1pt] (152,204) -- (169,204);
\draw[black!30, line width=1.1pt] (169,204) -- (181,204);
\draw[line width=1.1pt] (106,230) -- (181,230);
% ---- g brackets ----
\draw[line width=0.6pt] (43,376) -- (75,376);
\node[font=\fsz{5.5}{6}] at (59,382) {6dpf};
\draw[line width=0.6pt] (91,376) -- (122,376);
\node[font=\fsz{5.5}{6}] at (104,382) {7dpf};
% ---- h ----
\draw[line width=1.2pt] (162,381) -- (334,381);
\node[font=\fsz{6}{6}, anchor=east] at (161,381) {5.0dpf};
\node[font=\fsz{6}{6}, anchor=west] at (334.5,381) {6.0dpf};
\foreach \k [count=\i from 0] in {1,3,5,7,9,11,13,15,17,19,21,23} {
  \node[font=\fsz{6}{6}] at ({166+\i*14.9},372) {\k};
  \draw[arr] ({166+\i*14.9},381.5) -- ({166+\i*14.9},392);}
% ---- unit labels ----
\node[font=\fsz{5}{5}] at (133,170) {(dpf)};
\node[font=\fsz{6.5}{7}] at (350,332) {(dpf)};
\node[font=\fsz{6.5}{7}] at (123,533) {(ZT)};
\end{scope}
\end{tikzpicture}
\end{document}
